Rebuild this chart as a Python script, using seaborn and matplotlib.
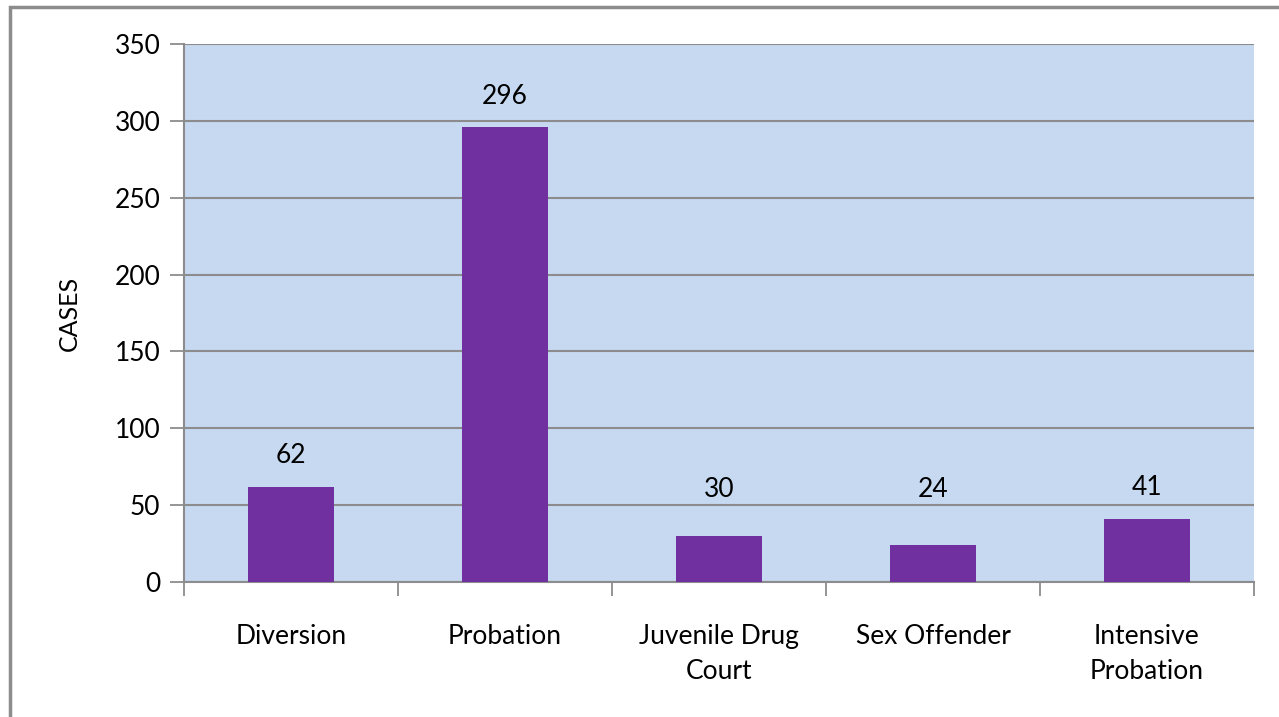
import matplotlib
matplotlib.use("Agg")
import matplotlib.pyplot as plt
import seaborn as sns
import pandas as pd
from matplotlib.patches import Rectangle

categories = ["Diversion", "Probation", "Juvenile Drug\nCourt", "Sex Offender", "Intensive\nProbation"]
cases = [62, 296, 30, 24, 41]
y_ticks = [0, 50, 100, 150, 200, 250, 300, 350]

sns.set_theme(style="white")
plt.rcParams['font.family'] = ['Lato', 'DejaVu Sans']

df = pd.DataFrame({"category": categories, "cases": cases})

fig = plt.figure(figsize=(12.79, 7.17), dpi=100)
ax = fig.add_axes([184/1279, 1 - 582/717, (1254-184)/1279, (582-44)/717])
ax.set_facecolor("#C6D9F1")

sns.barplot(data=df, x="category", y="cases", color="#7030A0", width=0.4,
            saturation=1, edgecolor="none", linewidth=0, ax=ax, zorder=3)

ax.set_ylim(0, 350)
ax.set_xlim(-0.5, len(categories) - 0.5)
ax.set_yticks(y_ticks)
ax.set_yticklabels([str(v) for v in y_ticks], fontsize=19, color="black")
ax.yaxis.grid(True, color="#8C8C8C", linewidth=1.5, zorder=1)
ax.set_axisbelow(True)

ax.set_xticks(range(len(categories)))
ax.set_xticklabels(categories, fontsize=19, color="black", linespacing=1.5)
ax.set_xticks([i - 0.5 for i in range(len(categories) + 1)], minor=True)
ax.tick_params(axis="x", which="major", length=0, pad=30)
ax.tick_params(axis="x", which="minor", length=10, width=1.3, color="#8C8C8C", bottom=True)
ax.tick_params(axis="y", which="major", length=10, width=1.3, color="#8C8C8C", left=True, pad=7)

ax.set_xlabel("")
ax.set_ylabel("CASES", fontsize=18, color="black", labelpad=24)

for s in ["top", "right"]:
    ax.spines[s].set_visible(False)
for s in ["left", "bottom"]:
    ax.spines[s].set_color("#8C8C8C")
    ax.spines[s].set_linewidth(1.5)

for i, v in enumerate(cases):
    ax.annotate(str(v), xy=(i, max(v, 40)), xytext=(0, 31), textcoords="offset pixels",
                ha="center", va="center", fontsize=19, color="black")

# outer chart border
fig.patches.append(Rectangle((10/1279, -0.1), 1.2, 1 - 7/717 + 0.1, transform=fig.transFigure,
                             fill=False, edgecolor="#8C8C8C", linewidth=2.5))

fig.savefig("out.png", dpi=100)
